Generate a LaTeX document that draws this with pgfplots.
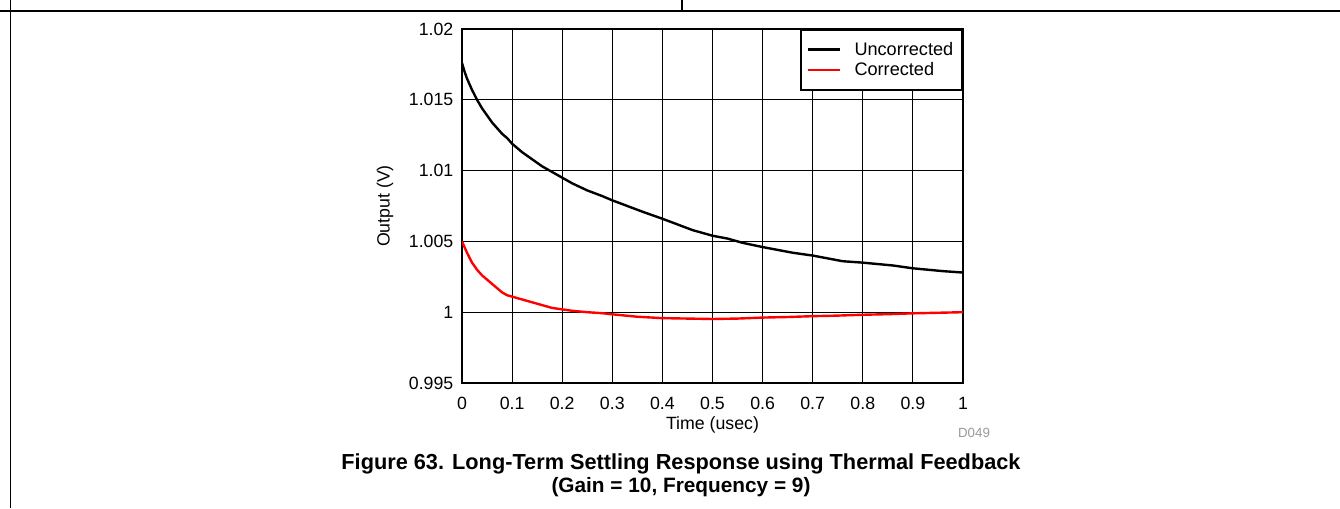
\documentclass[border=0pt]{standalone}
\usepackage{fontspec}
\setmainfont{Liberation Sans}
\usepackage{pgfplots}
\pgfplotsset{compat=1.18}
\begin{document}
\begin{tikzpicture}[x=0.75pt,y=0.75pt]
\useasboundingbox (0,0) rectangle (1340,508);
% page frame lines
\draw[line width=1.4pt] (0,497) -- (1340,497);
\draw[line width=1.4pt] (10.5,0) -- (10.5,508);
\draw[line width=1.4pt] (682,497) -- (682,508);
\begin{axis}[
  at={(346.5pt,93.75pt)}, anchor=south west,
  scale only axis, width=375.75pt, height=265.5pt,
  xmin=0, xmax=1, ymin=0.995, ymax=1.02,
  xtick={0,0.1,0.2,0.3,0.4,0.5,0.6,0.7,0.8,0.9,1},
  xticklabels={0,0.1,0.2,0.3,0.4,0.5,0.6,0.7,0.8,0.9,1},
  ytick={0.995,1,1.005,1.01,1.015,1.02},
  yticklabels={0.995,1,1.005,1.01,1.015,1.02},
  major tick length=0pt,
  grid=major,
  major grid style={black, line width=0.8pt},
  axis line style={line width=2.2pt},
  tick label style={font=\fontsize{13.3}{15}\selectfont},
  xticklabel style={yshift=-7pt},
  yticklabel style={xshift=-3pt},
  xlabel={Time (usec)},
  ylabel={Output (V)},
  label style={font=\fontsize{13.3}{15}\selectfont},
  xlabel style={at={(axis description cs:0.5,-0.1186)}, anchor=center},
  ylabel style={at={(axis description cs:-0.1537,0.5)}, anchor=center},
  legend style={at={(1,1)}, anchor=north east, draw=black, line width=1.6pt,
    fill=white, font=\fontsize{13.6}{16}\selectfont, cells={anchor=west},
    inner xsep=4.5pt, inner ysep=7pt, row sep=0pt},
  legend image code/.code={\draw[#1] (0cm,0cm) -- (0.85cm,0cm); \path (1.12cm,0cm);},
  clip=true,
]
\addplot[black, line width=1.8pt] coordinates {
(0,1.0176) (0.005,1.0170) (0.01,1.0165) (0.02,1.0157) (0.03,1.0150)
(0.04,1.0144) (0.05,1.0139) (0.06,1.0134) (0.07,1.0130) (0.08,1.0126)
(0.09,1.0123) (0.10,1.0119) (0.12,1.0113) (0.14,1.0108) (0.16,1.0103)
(0.18,1.0099) (0.20,1.0095) (0.22,1.0091) (0.25,1.0086) (0.28,1.0082)
(0.30,1.0079) (0.33,1.0075) (0.36,1.0071) (0.40,1.0066) (0.43,1.0062)
(0.46,1.0058) (0.50,1.0054) (0.53,1.0052) (0.56,1.0049) (0.60,1.0046)
(0.63,1.0044) (0.66,1.0042) (0.70,1.0040) (0.73,1.0038) (0.76,1.0036)
(0.80,1.0035) (0.83,1.0034) (0.86,1.0033) (0.90,1.0031) (0.93,1.0030)
(0.96,1.0029) (1.00,1.0028)
};
\addlegendentry{Uncorrected}
\addplot[red, line width=1.8pt] coordinates {
(0,1.0050) (0.005,1.0046) (0.01,1.0042) (0.02,1.0035) (0.03,1.0030)
(0.04,1.0026) (0.05,1.0023) (0.06,1.0020) (0.07,1.0017) (0.08,1.0014)
(0.09,1.0012) (0.10,1.0011) (0.12,1.0009) (0.14,1.0007) (0.16,1.0005)
(0.18,1.0003) (0.20,1.0002) (0.22,1.0001) (0.25,1.0000) (0.28,0.99993)
(0.30,0.99985) (0.35,0.99968) (0.40,0.99958) (0.45,0.99955) (0.50,0.99952)
(0.55,0.99955) (0.60,0.99962) (0.65,0.99966) (0.70,0.99972) (0.75,0.99976)
(0.80,0.99982) (0.85,0.99986) (0.90,0.99992) (0.95,0.99996) (1.00,1.0000)
};
\addlegendentry{Corrected}
\end{axis}
\node[font=\fontsize{10}{12}\selectfont, text=black!40] at (974,75) {D049};
\node[font=\bfseries\fontsize{16.3}{18}\selectfont] at (681,44) {Figure 63. Long-Term Settling Response using Thermal Feedback};
\node[font=\bfseries\fontsize{15.6}{18}\selectfont] at (681,21) {(Gain = 10, Frequency = 9)};
\end{tikzpicture}
\end{document}
